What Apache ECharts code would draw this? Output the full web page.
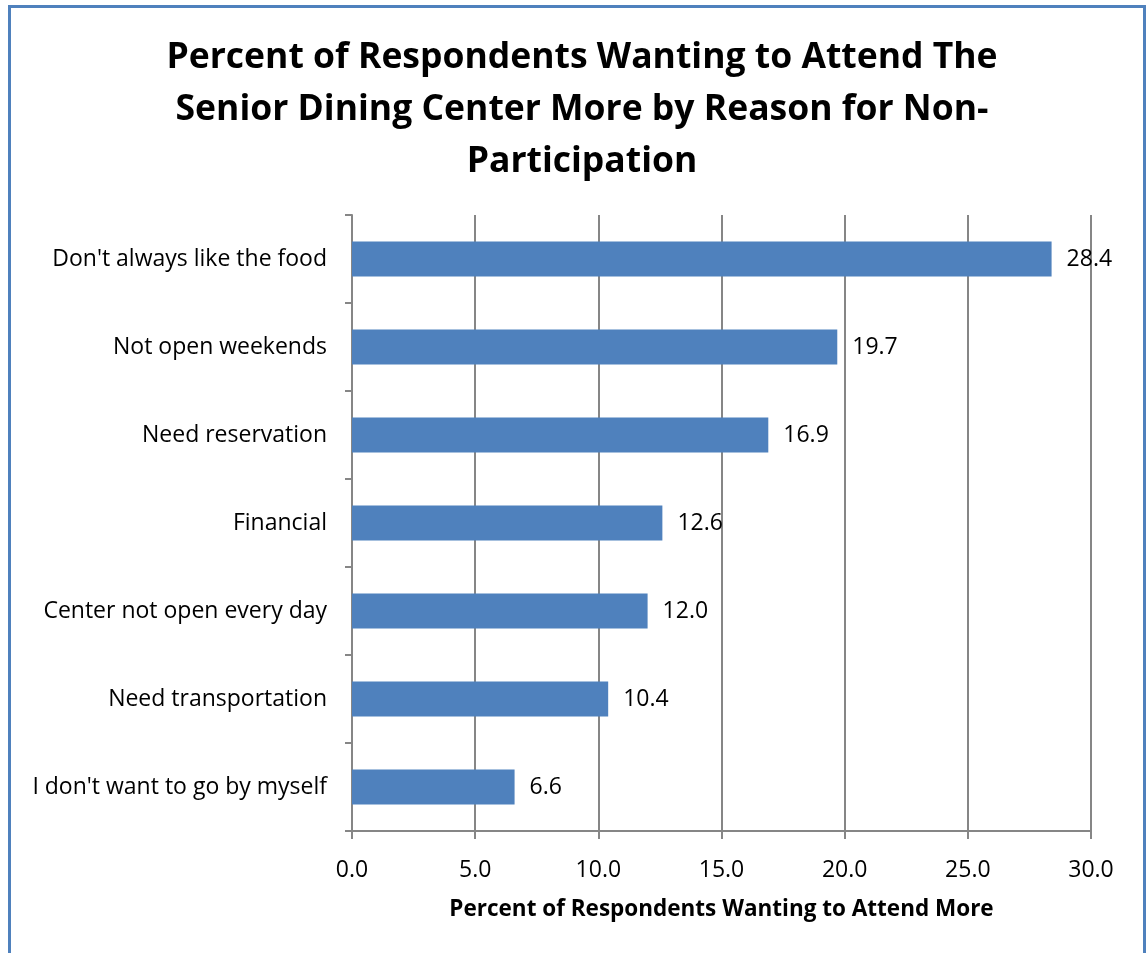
<!DOCTYPE html>
<html>
<head>
<meta charset="utf-8">
<script src="https://cdn.jsdelivr.net/npm/echarts@6/dist/echarts.min.js"></script>
<style>
  html, body { margin: 0; padding: 0; background: #fff; }
  #chart { width: 1146px; height: 953px; }
</style>
</head>
<body>
<div id="chart"></div>
<script>
// Reasons for not attending, listed top to bottom
const categories = [
  "Don't always like the food",
  "Not open weekends",
  "Need reservation",
  "Financial",
  "Center not open every day",
  "Need transportation",
  "I don't want to go by myself"
];
// Percent of respondents wanting to attend more, same order
const values = [28.4, 19.7, 16.9, 12.6, 12.0, 10.4, 6.6];
const titleText = "Percent of Respondents Wanting to Attend The\nSenior Dining Center More by Reason for Non-\nParticipation";
const axisTitle = "Percent of Respondents Wanting to Attend More";

const FONT = "'Open Sans', Lato, sans-serif";
const chart = echarts.init(document.getElementById('chart'), null, { renderer: 'canvas' });

chart.setOption({
  backgroundColor: '#ffffff',
  animation: false,
  title: {
    text: titleText,
    left: 577,
    textAlign: 'center',
    top: 27,
    textStyle: { fontFamily: FONT, fontWeight: 'bold', fontSize: 35.5, lineHeight: 52, color: '#000' }
  },
  graphic: [{
    type: 'rect',
    shape: { x: 9.5, y: 6.5, width: 1135, height: 980 },
    style: { fill: 'none', stroke: '#4F81BD', lineWidth: 3 },
    silent: true
  }],
  grid: { left: 352, right: 55, top: 215, bottom: 122, containLabel: false },
  xAxis: {
    type: 'value',
    min: 0, max: 30, interval: 5,
    name: axisTitle,
    nameLocation: 'middle',
    nameGap: 67,
    nameTextStyle: { fontFamily: FONT, fontWeight: 'bold', fontSize: 22.5, color: '#000' },
    axisLine: { show: true, lineStyle: { color: '#868686', width: 2 } },
    axisTick: { show: true, inside: false, length: 8, lineStyle: { color: '#868686', width: 2 } },
    axisLabel: {
      fontFamily: FONT, fontSize: 23, color: '#000', margin: 28,
      formatter: v => v.toFixed(1)
    },
    splitLine: { show: true, lineStyle: { color: '#868686', width: 2 } }
  },
  yAxis: {
    type: 'category',
    data: categories,
    inverse: true,
    axisLine: { show: true, lineStyle: { color: '#868686', width: 2 } },
    axisTick: { show: true, inside: false, length: 7, lineStyle: { color: '#868686', width: 2 } },
    axisLabel: { fontFamily: FONT, fontSize: 23, color: '#000', margin: 25 },
    splitLine: { show: false }
  },
  series: [{
    type: 'bar',
    data: values,
    barWidth: 35,
    itemStyle: { color: '#4F81BD' },
    label: {
      show: true,
      position: 'right',
      distance: 15,
      fontFamily: FONT,
      fontSize: 23,
      color: '#000',
      formatter: p => p.value.toFixed(1)
    }
  }]
});
</script>
</body>
</html>
